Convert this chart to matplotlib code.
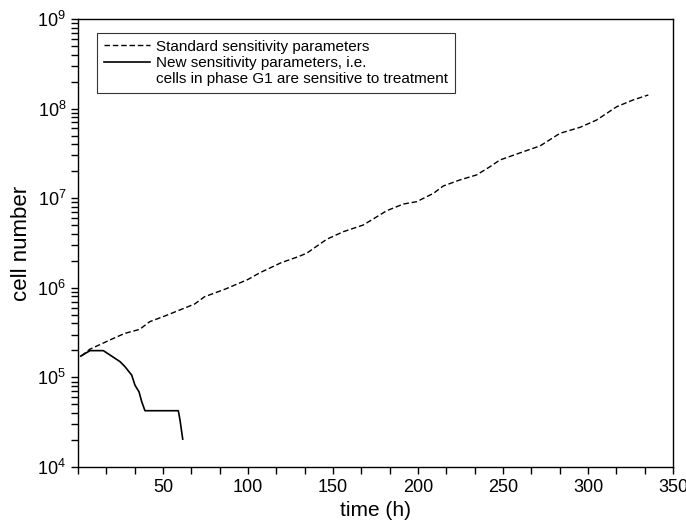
import numpy as np
import matplotlib
matplotlib.use('Agg')
import matplotlib.pyplot as plt
from matplotlib.lines import Line2D
from matplotlib.ticker import MultipleLocator, LogLocator, NullFormatter

plt.rcParams['font.family'] = ['Liberation Sans', 'DejaVu Sans']

# standard sensitivity parameters (dashed)
t_std = [1.9, 6.9, 19.6, 27.5, 36.3, 42.2, 51.0, 58.8, 68.6, 74.5, 86.3, 100.0,
         106.9, 119.6, 129.4, 134.5, 146.3, 156.1, 167.8, 181.6, 191.4, 199.2,
         209.0, 214.9, 224.7, 234.5, 242.4, 248.2, 261.9, 271.8, 283.5, 295.3,
         305.1, 316.9, 326.6, 335.5]
n_std = [1.73e5, 2.06e5, 2.66e5, 3.10e5, 3.44e5, 4.19e5, 4.84e5, 5.55e5, 6.59e5,
         7.96e5, 9.62e5, 1.24e6, 1.47e6, 1.91e6, 2.22e6, 2.43e6, 3.48e6, 4.23e6,
         5.02e6, 7.25e6, 8.61e6, 9.14e6, 1.13e7, 1.37e7, 1.60e7, 1.82e7, 2.25e7,
         2.67e7, 3.30e7, 3.83e7, 5.30e7, 6.18e7, 7.46e7, 1.05e8, 1.25e8, 1.42e8]

# new sensitivity parameters (solid)
t_new = [1.6, 7.1, 14.9, 18.8, 24.7, 27.6, 31.6, 33.5, 35.9, 37.5, 39.4, 59.0, 60.0, 61.6]
n_new = [1.73e5, 1.99e5, 1.99e5, 1.78e5, 1.50e5, 1.32e5, 1.06e5, 8.2e4, 6.9e4,
         5.35e4, 4.25e4, 4.25e4, 3.35e4, 2.05e4]

x_ticks = [50, 100, 150, 200, 250, 300, 350]

fig = plt.figure(figsize=(6.86, 5.28), dpi=100)
ax = fig.add_axes([0.1137, 0.1155, 0.8673, 0.8485])

ax.plot(t_std, n_std, color='black', linewidth=1.0, linestyle=(0, (4, 2)))
ax.plot(t_new, n_new, color='black', linewidth=1.2, linestyle='-')

ax.set_yscale('log')
ax.set_xlim(0, 350)
ax.set_ylim(1e4, 1e9)

ax.set_xticks(x_ticks)
ax.xaxis.set_minor_locator(MultipleLocator(50 / 3))
ax.yaxis.set_major_locator(LogLocator(base=10, numticks=10))
ax.yaxis.set_minor_locator(LogLocator(base=10, subs=np.arange(2, 10), numticks=20))
ax.yaxis.set_minor_formatter(NullFormatter())

ax.tick_params(axis='both', which='both', direction='out', top=False, right=False,
               labelsize=13, width=1.0, color='black')
ax.tick_params(axis='both', which='major', length=5)
ax.tick_params(axis='both', which='minor', length=5)

for s in ax.spines.values():
    s.set_linewidth(1.0)

ax.set_xlabel('time (h)', fontsize=15, labelpad=4)
ax.set_ylabel('cell number', fontsize=16, labelpad=4)

handles = [Line2D([], [], color='black', linewidth=1.0, linestyle=(0, (4, 2))),
           Line2D([], [], color='black', linewidth=1.2),
           Line2D([], [], color='none')]
labels = ['Standard sensitivity parameters',
          'New sensitivity parameters, i.e.',
          'cells in phase G1 are sensitive to treatment']
leg = ax.legend(handles, labels, loc='upper left', bbox_to_anchor=(0.032, 0.969),
                borderaxespad=0, fancybox=False, fontsize=11, handlelength=3.0,
                handletextpad=0.4, labelspacing=0.15, borderpad=0.45)
leg.get_frame().set_edgecolor('black')
leg.get_frame().set_linewidth(0.8)

plt.savefig('out.png', dpi=100)
plt.close()
